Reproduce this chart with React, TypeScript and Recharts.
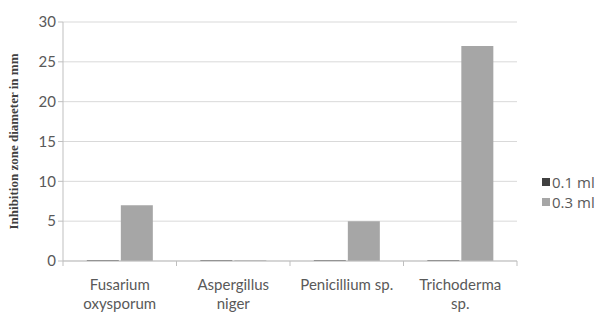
import React from 'react'
import { BarChart, Bar, XAxis, YAxis, CartesianGrid } from 'recharts'

const fungi = ['Fusarium oxysporum', 'Aspergillus niger', 'Penicillium sp.', 'Trichoderma sp.']
const tickLines = [['Fusarium', 'oxysporum'], ['Aspergillus', 'niger'], ['Penicillium sp.'], ['Trichoderma', 'sp.']]
const dose01 = [0.1, 0.1, 0.1, 0.1]
const dose03 = [7, 0.1, 5, 27]
const yTicks = [0, 5, 10, 15, 20, 25, 30]
const seriesNames = ['0.1 ml', '0.3 ml']
const colors = ['#404040', '#a6a6a6']

const data = fungi.map((f, i) => ({ name: f, a: dose01[i], b: dose03[i] }))

const W = 601, H = 322
const M = { top: 22, right: 84, bottom: 31, left: 15 }
const YW = 48
const band = (W - M.left - YW - M.right) / fungi.length
const FONT = 'Lato, "Open Sans", sans-serif'

function CatTick(props: any) {
  const { x, y, index } = props
  const lines = tickLines[index] ?? []
  return (
    <g>
      <line x1={x - band / 2} x2={x - band / 2} y1={y - 8} y2={y - 3} stroke="#bfbfbf" />
      {index === fungi.length - 1 && <line x1={x + band / 2} x2={x + band / 2} y1={y - 8} y2={y - 3} stroke="#bfbfbf" />}
      {lines.map((l, i) => (
        <text key={i} x={x} y={y + 21 + i * 19} textAnchor="middle" fontSize={15} fill="#595959" fontFamily={FONT}>{l}</text>
      ))}
    </g>
  )
}

function Legend() {
  return (
    <div style={{ position: 'absolute', left: 542, top: 172, fontFamily: '"Open Sans", sans-serif', fontSize: 15, lineHeight: '20px', color: '#595959', whiteSpace: 'nowrap' }}>
      {seriesNames.map((s, i) => (
        <div key={s} style={{ display: 'flex', alignItems: 'center', height: 20 }}>
          <span style={{ width: 8, height: 8, background: colors[i], marginRight: 2, display: 'inline-block' }} />
          {s}
        </div>
      ))}
    </div>
  )
}

export default function App() {
  return (
    <div style={{ position: 'absolute', left: 0, top: 0, width: W, height: H, background: '#fff', overflow: 'hidden' }}>
      <BarChart width={W} height={H} data={data} margin={M} barCategoryGap="21%" barGap={2}>
        <CartesianGrid vertical={false} stroke="#d9d9d9" />
        <XAxis dataKey="name" tick={<CatTick />} tickLine={false} axisLine={{ stroke: '#bfbfbf' }} interval={0} />
        <YAxis width={YW} domain={[0, 30]} ticks={yTicks} tick={{ fontSize: 15, fill: '#595959', fontFamily: FONT }}
          tickLine={{ stroke: '#bfbfbf' }} tickSize={5} axisLine={{ stroke: '#bfbfbf' }}
          label={{ value: 'Inhibition zone diameter in mm', angle: -90, position: 'insideLeft', offset: -2,
            style: { fontSize: 13, fontWeight: 'bold', fontFamily: '"Liberation Serif", serif', fill: '#404040', textAnchor: 'middle' } }} />
        <Bar dataKey="a" name={seriesNames[0]} fill={colors[0]} isAnimationActive={false} />
        <Bar dataKey="b" name={seriesNames[1]} fill={colors[1]} isAnimationActive={false} />
      </BarChart>
      <Legend />
    </div>
  )
}
